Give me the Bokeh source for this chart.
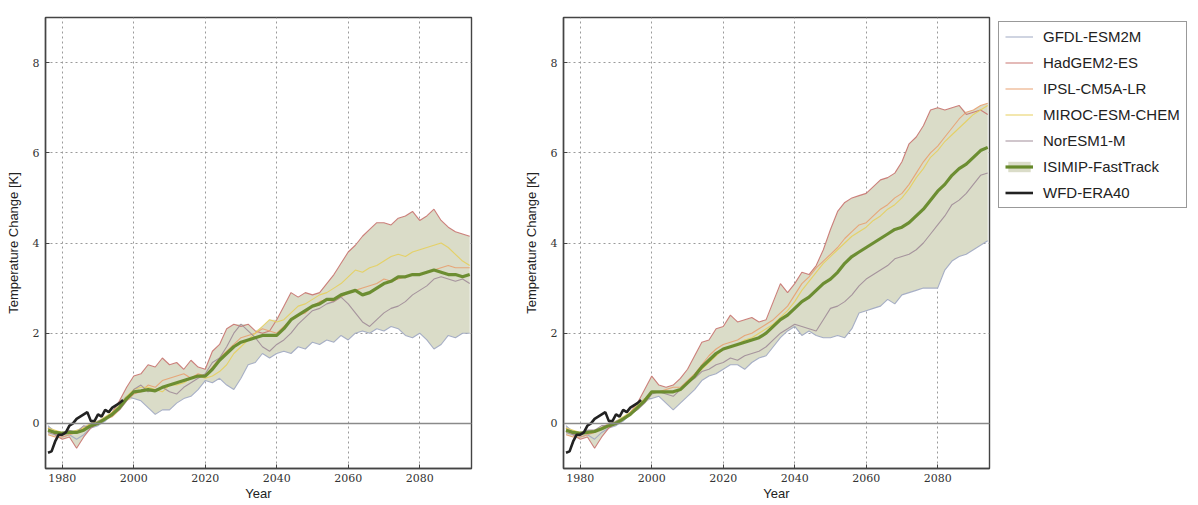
import numpy as np
from bokeh.embed import file_html
from bokeh.resources import INLINE
from bokeh.layouts import row
from bokeh.models import FixedTicker, Legend, LegendItem, Span
from bokeh.plotting import figure

# 2-year steps, running mean temperature change relative to baseline
years = list(range(1976, 2095, 2))
obs_years = list(range(1976, 1998))

x_ticks = [1980, 2000, 2020, 2040, 2060, 2080]
y_ticks = [0, 2, 4, 6, 8]

model_names = ["GFDL-ESM2M", "HadGEM2-ES", "IPSL-CM5A-LR", "MIROC-ESM-CHEM", "NorESM1-M"]
model_colors = ["#9ea7c2", "#c8736f", "#e8a070", "#e6cf5c", "#a08c98"]

wfd_era40 = [-0.65, -0.62, -0.40, -0.25, -0.25, -0.20, -0.05, 0.00, 0.10, 0.15, 0.20,
             0.25, 0.05, 0.05, 0.20, 0.15, 0.30, 0.25, 0.35, 0.40, 0.45, 0.52]

# ---- left panel ----
left_gfdl = [-0.05, -0.20,
             -0.30, -0.25, -0.35, -0.25, -0.10,
             -0.05, 0.05, 0.25, 0.45, 0.60,
             0.55, 0.50, 0.35, 0.20, 0.30,
             0.30, 0.45, 0.55, 0.60, 0.75,
             0.95, 0.90, 1.00, 0.85, 0.75,
             1.00, 1.30, 1.35, 1.55, 1.45,
             1.55, 1.60, 1.55, 1.70, 1.65,
             1.80, 1.75, 1.85, 1.80, 1.95,
             1.85, 2.00, 2.05, 2.00, 2.10,
             2.05, 2.15, 2.10, 1.95, 1.90,
             2.00, 1.85, 1.65, 1.75, 1.95,
             1.90, 2.00, 2.00]
left_hadgem = [-0.10, -0.25,
               -0.35, -0.30, -0.55, -0.30, -0.10,
               0.00, 0.10, 0.25, 0.50, 0.80,
               1.05, 1.10, 1.30, 1.25, 1.45,
               1.30, 1.35, 1.20, 1.40, 1.25,
               1.20, 1.60, 1.75, 2.10, 2.20,
               2.15, 2.20, 2.05, 2.00, 2.05,
               2.30, 2.60, 2.90, 2.80, 2.90,
               2.85, 2.90, 3.10, 3.30, 3.55,
               3.80, 3.95, 4.15, 4.30, 4.45,
               4.45, 4.40, 4.55, 4.60, 4.70,
               4.50, 4.60, 4.75, 4.50, 4.35,
               4.25, 4.20, 4.15]
left_ipsl = [-0.25, -0.30,
             -0.30, -0.25, -0.20, -0.10, 0.00,
             0.00, 0.10, 0.15, 0.30, 0.50,
             0.65, 0.70, 0.85, 0.80, 0.95,
             1.00, 1.05, 1.10, 1.00, 1.10,
             1.05, 1.25, 1.45, 1.60, 1.75,
             1.90, 1.95, 2.00, 2.10, 2.05,
             2.00, 2.15, 2.30, 2.40, 2.45,
             2.60, 2.70, 2.75, 2.70, 2.80,
             2.90, 2.95, 3.00, 3.05, 3.10,
             3.20, 3.15, 3.20, 3.25, 3.30,
             3.30, 3.35, 3.40, 3.45, 3.50,
             3.45, 3.45, 3.45]
left_miroc = [-0.10, -0.15,
              -0.20, -0.20, -0.15, -0.10, 0.00,
              0.05, 0.15, 0.25, 0.40, 0.60,
              0.75, 0.80, 0.80, 0.75, 0.70,
              0.85, 0.85, 0.90, 1.00, 1.05,
              1.00, 1.05, 1.15, 1.30, 1.55,
              1.70, 1.85, 2.00, 2.15, 2.30,
              2.25, 2.30, 2.45, 2.60, 2.65,
              2.75, 2.85, 2.90, 3.00, 3.10,
              3.25, 3.40, 3.35, 3.45, 3.50,
              3.60, 3.70, 3.75, 3.70, 3.80,
              3.85, 3.90, 3.95, 4.00, 3.90,
              3.75, 3.60, 3.50]
left_noresm = [-0.20, -0.25,
               -0.20, -0.15, -0.20, -0.05, -0.10,
               0.05, 0.10, 0.20, 0.30, 0.50,
               0.75, 0.85, 0.70, 0.75, 0.80,
               0.70, 0.65, 0.80, 0.90, 1.00,
               1.10, 1.35, 1.45, 1.70, 2.00,
               2.20, 2.05, 1.90, 1.70, 1.60,
               1.75, 1.85, 2.00, 2.20, 2.35,
               2.50, 2.55, 2.65, 2.70, 2.80,
               2.65, 2.45, 2.25, 2.15, 2.30,
               2.45, 2.55, 2.60, 2.70, 2.85,
               2.95, 3.05, 3.20, 3.25, 3.20,
               3.15, 3.20, 3.10]
left_mean = [-0.15, -0.20,
             -0.22, -0.20, -0.20, -0.15, -0.05,
             0.00, 0.10, 0.20, 0.35, 0.55,
             0.70, 0.72, 0.75, 0.72, 0.80,
             0.85, 0.90, 0.95, 1.00, 1.05,
             1.05, 1.20, 1.40, 1.55, 1.70,
             1.80, 1.85, 1.90, 1.95, 1.95,
             1.95, 2.10, 2.30, 2.40, 2.50,
             2.60, 2.65, 2.75, 2.75, 2.85,
             2.90, 2.95, 2.85, 2.90, 3.00,
             3.10, 3.15, 3.25, 3.25, 3.30,
             3.30, 3.35, 3.40, 3.35, 3.30,
             3.30, 3.25, 3.30]

# ---- right panel ----
right_gfdl = [-0.05, -0.20,
              -0.30, -0.25, -0.35, -0.20, -0.10,
              -0.05, 0.05, 0.20, 0.40, 0.55,
              0.55, 0.60, 0.45, 0.30, 0.45,
              0.60, 0.75, 0.95, 1.05, 1.10,
              1.20, 1.30, 1.30, 1.20, 1.35,
              1.45, 1.50, 1.70, 1.90, 2.05,
              2.15, 1.95, 2.05, 1.95, 1.90,
              1.90, 1.95, 1.90, 2.10, 2.45,
              2.50, 2.55, 2.60, 2.75, 2.65,
              2.85, 2.90, 2.95, 3.00, 3.00,
              3.00, 3.40, 3.60, 3.70, 3.75,
              3.85, 3.95, 4.05]
right_hadgem = [-0.10, -0.25,
                -0.35, -0.30, -0.55, -0.30, -0.10,
                0.00, 0.10, 0.25, 0.45, 0.75,
                1.05, 0.85, 0.80, 0.85, 1.00,
                1.20, 1.50, 1.80, 1.85, 2.10,
                2.15, 2.40, 2.25, 2.30, 2.35,
                2.25, 2.30, 2.70, 3.10, 2.90,
                3.10, 3.35, 3.30, 3.50, 3.85,
                4.30, 4.70, 4.90, 5.00, 5.05,
                5.10, 5.25, 5.40, 5.45, 5.55,
                5.80, 6.20, 6.35, 6.60, 6.95,
                7.00, 6.95, 7.00, 7.05, 6.85,
                6.90, 6.95, 6.85]
right_ipsl = [-0.25, -0.30,
              -0.30, -0.25, -0.20, -0.10, 0.00,
              0.00, 0.10, 0.20, 0.35, 0.50,
              0.70, 0.70, 0.75, 0.80, 0.80,
              0.95, 1.10, 1.30, 1.50, 1.65,
              1.75, 1.80, 1.85, 1.95, 2.00,
              2.10, 2.20, 2.30, 2.45, 2.60,
              2.85, 3.10, 3.25, 3.45, 3.60,
              3.75, 3.90, 4.10, 4.25, 4.40,
              4.45, 4.60, 4.75, 4.85, 5.00,
              5.10, 5.30, 5.55, 5.80, 6.00,
              6.15, 6.35, 6.55, 6.75, 6.90,
              6.95, 7.05, 7.10]
right_miroc = [-0.10, -0.15,
               -0.20, -0.20, -0.15, -0.10, -0.05,
               0.05, 0.15, 0.25, 0.40, 0.55,
               0.70, 0.70, 0.70, 0.70, 0.75,
               0.90, 1.05, 1.20, 1.35, 1.50,
               1.65, 1.70, 1.75, 1.85, 1.90,
               2.00, 2.10, 2.20, 2.35, 2.50,
               2.70, 2.95, 3.15, 3.35, 3.55,
               3.70, 3.85, 4.00, 4.15, 4.25,
               4.35, 4.50, 4.60, 4.75, 4.85,
               5.00, 5.20, 5.45, 5.65, 5.90,
               6.05, 6.25, 6.40, 6.55, 6.70,
               6.85, 6.95, 7.05]
right_noresm = [-0.20, -0.25,
                -0.20, -0.15, -0.15, -0.05, -0.05,
                0.05, 0.10, 0.20, 0.30, 0.45,
                0.65, 0.70, 0.65, 0.60, 0.75,
                0.90, 1.00, 1.15, 1.20, 1.30,
                1.35, 1.45, 1.40, 1.50, 1.55,
                1.60, 1.70, 1.85, 2.00, 2.10,
                2.20, 2.15, 2.10, 2.05, 2.30,
                2.55, 2.60, 2.70, 2.85, 3.05,
                3.20, 3.30, 3.40, 3.50, 3.65,
                3.70, 3.75, 3.85, 4.00, 4.20,
                4.40, 4.60, 4.85, 4.95, 5.10,
                5.30, 5.50, 5.55]
right_mean = [-0.15, -0.20,
              -0.22, -0.20, -0.18, -0.12, -0.05,
              0.00, 0.10, 0.20, 0.35, 0.50,
              0.70, 0.70, 0.70, 0.70, 0.75,
              0.90, 1.05, 1.25, 1.40, 1.55,
              1.65, 1.70, 1.75, 1.80, 1.85,
              1.90, 2.00, 2.15, 2.30, 2.40,
              2.55, 2.70, 2.80, 2.95, 3.10,
              3.20, 3.35, 3.55, 3.70, 3.80,
              3.90, 4.00, 4.10, 4.20, 4.30,
              4.35, 4.45, 4.60, 4.75, 4.95,
              5.15, 5.30, 5.50, 5.65, 5.75,
              5.90, 6.05, 6.12]

BAND = "#dadcc8"
MEAN = "#66892a"
OBS = "#222222"
HEIGHT = 503


def make_panel(models, mean, width, left, right):
    p = figure(width=width, height=HEIGHT, x_range=(1975.3, 2094.5), y_range=(-1, 9),
               output_backend="svg", toolbar_location=None,
               min_border_left=left, min_border_right=right, min_border_top=17,
               min_border_bottom=20)
    p.background_fill_color = "white"
    p.outline_line_color = "#444444"
    p.outline_line_width = 1.4

    p.xaxis.ticker = FixedTicker(ticks=x_ticks)
    p.yaxis.ticker = FixedTicker(ticks=y_ticks)
    p.xaxis.axis_label = "Year"
    p.yaxis.axis_label = "Temperature Change [K]"
    for ax in p.axis:
        ax.axis_line_color = "#444444"
        ax.axis_line_width = 1.4
        ax.major_tick_in = 4
        ax.major_tick_out = 0
        ax.minor_tick_line_color = None
        ax.major_tick_line_color = "#444444"
        ax.major_label_text_font = "DejaVu Serif"
        ax.major_label_text_font_size = "11px"
        ax.major_label_text_color = "#333333"
        ax.axis_label_text_font = "Liberation Sans"
        ax.axis_label_text_font_size = "13px"
        ax.axis_label_text_font_style = "normal"
        ax.axis_label_text_color = "#222222"
    p.xaxis.major_label_standoff = 5
    p.xaxis.axis_label_standoff = 1
    p.yaxis.major_label_standoff = 6
    p.yaxis.axis_label_standoff = 9

    p.grid.grid_line_color = "#9a9a9a"
    p.grid.grid_line_dash = "2 3"
    p.grid.grid_line_width = 1

    arr = np.array(models)
    p.varea(x=years, y1=arr.min(axis=0), y2=arr.max(axis=0), fill_color=BAND, fill_alpha=1.0)

    for vals, color in zip(models, model_colors):
        p.line(years, vals, line_color=color, line_width=1.1, line_alpha=0.9)

    p.line(years, mean, line_color=MEAN, line_width=3.2, line_alpha=0.95)
    p.line(obs_years, wfd_era40, line_color=OBS, line_width=2.6)

    p.add_layout(Span(location=0, dimension="width", line_color="#8a8a8a", line_width=1.5))
    return p


p1 = make_panel([left_gfdl, left_hadgem, left_ipsl, left_miroc, left_noresm],
                left_mean, 518, 45, 47)
p2 = make_panel([right_gfdl, right_hadgem, right_ipsl, right_miroc, right_noresm],
                right_mean, 476, 45, 5)

# legend lives in its own blank figure to the right of the second panel;
# its renderers reuse the right-panel data, which lies outside this figure's ranges
p3 = figure(width=202, height=HEIGHT, x_range=(0, 1), y_range=(0, 1),
            output_backend="svg", toolbar_location=None,
            x_axis_location=None, y_axis_location=None,
            min_border_left=0, min_border_right=0, min_border_top=14, min_border_bottom=0)
p3.grid.visible = False
p3.outline_line_color = None

items = []
right_models = [right_gfdl, right_hadgem, right_ipsl, right_miroc, right_noresm]
for n, color, vals in zip(model_names, model_colors, right_models):
    r = p3.line(years, vals, line_color=color, line_width=1.1, line_alpha=0.9)
    items.append(LegendItem(label=n, renderers=[r]))
band_r = p3.varea(x=years, y1=right_gfdl, y2=right_ipsl, fill_color=BAND)
mean_r = p3.line(years, right_mean, line_color=MEAN, line_width=3.2)
items.append(LegendItem(label="ISIMIP-FastTrack", renderers=[band_r, mean_r]))
obs_r = p3.line(obs_years, wfd_era40, line_color=OBS, line_width=2.6)
items.append(LegendItem(label="WFD-ERA40", renderers=[obs_r]))

legend = Legend(items=items, location="top_left")
legend.margin = 4
legend.padding = 6
legend.spacing = 9
legend.glyph_width = 28
legend.glyph_height = 13
legend.label_height = 13
legend.label_standoff = 10
legend.label_text_font = "Liberation Sans"
legend.label_text_font_size = "15px"
legend.label_text_color = "#222222"
legend.border_line_color = "#333333"
legend.border_line_width = 1
p3.add_layout(legend)

layout = row(p1, p2, p3)
open("out.html", "w").write(file_html(layout, INLINE))
